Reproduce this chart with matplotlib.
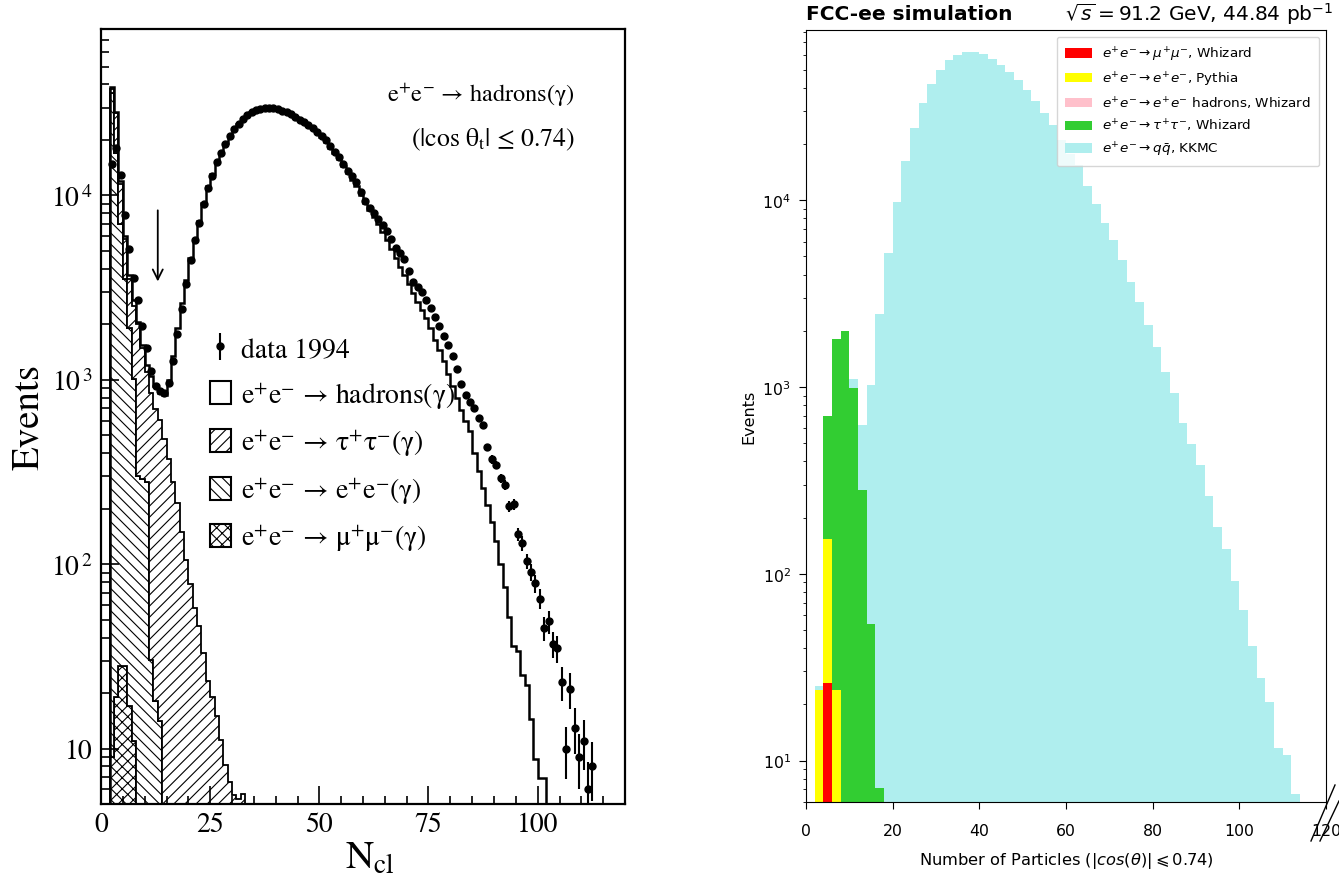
import matplotlib
matplotlib.use('Agg')
import matplotlib.pyplot as plt
import numpy as np
from matplotlib.patches import Patch
from matplotlib.lines import Line2D
from matplotlib.ticker import LogLocator, NullFormatter, MultipleLocator

plt.rcParams['hatch.linewidth'] = 0.8

W, H = 1339, 879

# ---------------- left panel: N_cl distribution (bins of width 1) ----------------
data_ncl = np.arange(2, 113)
data_events = [14800, 18000, 12900, 7800, 5100, 3580, 2700, 1960, 1490, 1110,
               930, 870, 850, 960, 1270, 1770, 2410, 3300, 4480, 5700,
               7100, 8970, 11000, 12800, 15100, 17000, 19000, 21000, 22800, 24400,
               26000, 27300, 28300, 29000, 29500, 29800, 29900, 29700, 29300, 28800,
               28200, 27500, 26700, 25800, 25000, 24100, 23100, 22100, 21100, 19900,
               18600, 17300, 16100, 14900, 13600, 12700, 11900, 10500, 9300, 8600,
               8000, 7500, 6900, 6400, 5800, 5200, 4900, 4500, 3900, 3400,
               3200, 3000, 2700, 2450, 2200, 1950, 1730, 1550, 1340, 1150,
               950, 830, 760, 700, 620, 570, 430, 370, 345, 293,
               268, 206, 212, 146, 130, 104, 91, 79, 65, 45,
               49, 37, 35, 23, 10, 21, 13, 9, 11, 6, 8]

mc_ncl = np.arange(2, 102)
mc_total = [39000, 28500, 12000, 6000, 3700, 2700, 2050, 1550, 1200, 1050,
            930, 850, 830, 1000, 1350, 1900, 2600, 3500, 4600, 5800,
            7300, 9100, 11200, 13000, 15200, 17200, 19200, 21000, 22800, 24400,
            25900, 27200, 28200, 29000, 29500, 29800, 29800, 29600, 29200, 28700,
            28100, 27400, 26600, 25700, 24800, 23800, 22800, 21800, 20700, 19500,
            18200, 17000, 15800, 14500, 13300, 12200, 11200, 10100, 9100, 8300,
            7600, 7000, 6300, 5700, 5100, 4600, 4100, 3700, 3300, 2950,
            2650, 2400, 2170, 1900, 1650, 1450, 1260, 1080, 930, 800,
            690, 600, 527, 400, 320, 260, 210, 170, 133, 100,
            75, 52, 36, 34, 25, 22, 14.5, 8.8, 6.9, 6.9]

bkg_ncl = np.arange(2, 33)
mumu_left = [9, 19, 28, 28, 17, 11] + [0] * 25
ee_left = [36000, 17000, 7000, 3500, 1900, 1000, 300, 290, 280, 30, 18, 14] + [0] * 19
tau_left = [2000, 11000, 4500, 2300, 1600, 1500, 1700, 1200, 820, 820,
            680, 590, 480, 370, 280, 215, 150, 105, 78, 58,
            46, 33, 23, 19, 15, 11, 8, 6.5, 5.5, 5.2, 5.6]

# ---------------- right panel: FCC-ee simulation (bins of width 2) ----------------
r_edges = np.arange(0, 121, 2)
qq_right = [0, 1, 0, 0, 0, 112, 344, 976, 2463, 5210,
            9770, 16300, 24400, 33000, 41900, 49800, 56200, 60000, 62300, 62300,
            60500, 57000, 52700, 48700, 44000, 38900, 34100, 29200, 25200, 21000,
            17700, 15500, 11900, 9490, 7570, 6100, 4810, 3660, 2840, 2150,
            1640, 1210, 931, 644, 494, 381, 261, 177, 135, 92,
            64, 41, 27.6, 20.5, 11.7, 10.7, 6.6, 0, 0, 0]
tau_right = [0, 0, 544, 1786, 1990, 988, 280, 54, 7.1] + [0] * 51
ee_right = [0, 24, 127, 24] + [0] * 56
mumu_right = [0, 0, 26] + [0] * 57
eehad_right = [0] * 60

fig = plt.figure(figsize=(W / 100, H / 100), dpi=100)

# ======================= left panel =======================
axL = fig.add_axes([101 / W, (H - 805) / H, 524 / W, 775 / H])
edges = np.arange(0, 121)


def full(ncl, vals):
    arr = np.zeros(120)
    arr[np.asarray(ncl)] = vals
    return arr


floor = 0.1
top_mu = np.maximum(full(bkg_ncl, mumu_left), floor)
top_ee = top_mu + full(bkg_ncl, ee_left)
top_tau = top_ee + full(bkg_ncl, tau_left)

axL.stairs(top_mu, edges, baseline=floor, fill=True, facecolor='white',
           edgecolor='black', hatch='xxx', linewidth=1.3)
axL.stairs(top_ee, edges, baseline=top_mu, fill=True, facecolor='white',
           edgecolor='black', hatch='\\\\\\', linewidth=1.3)
axL.stairs(top_tau, edges, baseline=top_ee, fill=True, facecolor='white',
           edgecolor='black', hatch='///', linewidth=1.3)

mc = full(mc_ncl, mc_total)
mc[mc <= 0] = 1e-3
axL.stairs(mc, edges, baseline=None, color='black', linewidth=1.8)

data = np.array(data_events, dtype=float)
eb = axL.errorbar(data_ncl + 0.5, data, yerr=np.sqrt(data), fmt='o', color='black',
                  ms=5, elinewidth=1.5, capsize=0)

axL.annotate('', xy=(13, 3300), xytext=(13, 8600),
             arrowprops=dict(arrowstyle='->', lw=1.3, color='black', mutation_scale=18))

axL.set_xlim(0, 120)
axL.set_yscale('log')
axL.set_ylim(5, 8e4)
axL.set_xticks([0, 25, 50, 75, 100])
axL.xaxis.set_minor_locator(MultipleLocator(5))
axL.yaxis.set_minor_locator(LogLocator(subs=np.arange(2, 10)))
axL.yaxis.set_minor_formatter(NullFormatter())
axL.set_yticks([10, 100, 1000, 10000],
               labels=['10', '10$^{\\,2}$', '10$^{\\,3}$', '10$^{\\,4}$'],
               family='STIXGeneral', math_fontfamily='stix', fontsize=20)
axL.tick_params(which='both', direction='in', top=False, right=False, width=1.2,
                labelsize=20, labelfontfamily='STIXGeneral')
axL.tick_params(which='major', length=13, pad=6)
axL.tick_params(which='minor', length=6)
for side in ['top', 'bottom', 'left', 'right']:
    axL.spines[side].set_linewidth(1.6)

axL.set_ylabel('Events', fontsize=28, family='STIXGeneral')
axL.yaxis.set_label_coords(-0.105, 0.5)
axL.set_xlabel('N$_{\\mathrm{cl}}$', fontsize=28, family='STIXGeneral',
               math_fontfamily='stix')
axL.xaxis.set_label_coords(0.513, -0.047)

axL.text(0.725, 0.916, 'e$^{+}$e$^{-}$ → hadrons(γ)', transform=axL.transAxes,
         ha='center', va='center', fontsize=17.5, family='STIXGeneral', math_fontfamily='stix')
axL.text(0.748, 0.858, '(|cos θ$_{\\mathrm{t}}$| ≤ 0.74)', transform=axL.transAxes,
         ha='center', va='center', fontsize=18.5, family='STIXGeneral', math_fontfamily='stix')

leg_handles = [eb,
               Patch(facecolor='white', edgecolor='black', linewidth=1.5),
               Patch(facecolor='white', edgecolor='black', hatch='///', linewidth=1.5),
               Patch(facecolor='white', edgecolor='black', hatch='\\\\\\', linewidth=1.5),
               Patch(facecolor='white', edgecolor='black', hatch='xxx', linewidth=1.5)]
leg_labels = ['data 1994',
              'e$^{+}$e$^{-}$ → hadrons(γ)',
              'e$^{+}$e$^{-}$ → τ$^{+}$τ$^{-}$(γ)',
              'e$^{+}$e$^{-}$ → e$^{+}$e$^{-}$(γ)',
              'e$^{+}$e$^{-}$ → μ$^{+}$μ$^{-}$(γ)']
legL = axL.legend(leg_handles, leg_labels, loc='upper left', bbox_to_anchor=(0.208, 0.604),
                  frameon=False, prop={'family': 'STIXGeneral', 'size': 20},
                  handlelength=0.75, handleheight=0.9, handletextpad=0.35,
                  labelspacing=0.6, borderaxespad=0, borderpad=0)
for t in legL.get_texts():
    t.set_math_fontfamily('stix')

# ======================= right panel =======================
axR = fig.add_axes([806 / W, (H - 803) / H, 520 / W, 772 / H])
layers = [(mumu_right, 'red', '$e^{+}e^{-} \\rightarrow \\mu^{+}\\mu^{-}$, Whizard'),
          (ee_right, 'yellow', '$e^{+}e^{-} \\rightarrow e^{+}e^{-}$, Pythia'),
          (eehad_right, 'pink', '$e^{+}e^{-} \\rightarrow e^{+}e^{-}$ hadrons, Whizard'),
          (tau_right, 'limegreen', '$e^{+}e^{-} \\rightarrow \\tau^{+}\\tau^{-}$, Whizard'),
          (qq_right, 'paleturquoise', '$e^{+}e^{-} \\rightarrow q\\bar{q}$, KKMC')]
bottom = np.full(60, 1e-2)
for vals, col, lab in layers:
    top = bottom + np.array(vals, dtype=float)
    axR.stairs(top, r_edges, baseline=bottom.copy(), fill=True, color=col,
               linewidth=0, label=lab)
    bottom = top

axR.set_xlim(0, 120)
axR.set_yscale('log')
axR.set_ylim(6, 8.15e4)
axR.tick_params(labelsize=11.3)
axR.tick_params(which='major', length=5)
axR.tick_params(axis='x', pad=10)
axR.tick_params(axis='y', pad=6)
axR.set_xlabel('Number of Particles ($|cos(\\theta)|\\leqslant0.74$)', fontsize=11.7,
               labelpad=9)
axR.set_ylabel('Events', fontsize=11.5)
axR.set_title('FCC-ee simulation', loc='left', fontweight='bold', fontsize=14.5, pad=8)
fig.text(1333 / W, 1 - 14 / H, '$\\sqrt{s} = 91.2$ GeV, 44.84 pb$^{-1}$',
         ha='right', va='center', fontsize=14.5)
axR.legend(loc='upper right', fontsize=9.7, labelspacing=0.48, borderpad=0.6)

# broken-axis marks at the lower right corner
for x0, y0, x1, y1 in [(1311, 842, 1335, 786), (1320, 842, 1339, 802)]:
    fig.add_artist(Line2D([x0 / W, x1 / W], [1 - y0 / H, 1 - y1 / H], color='black', lw=1))

fig.savefig('out.png', dpi=100)
